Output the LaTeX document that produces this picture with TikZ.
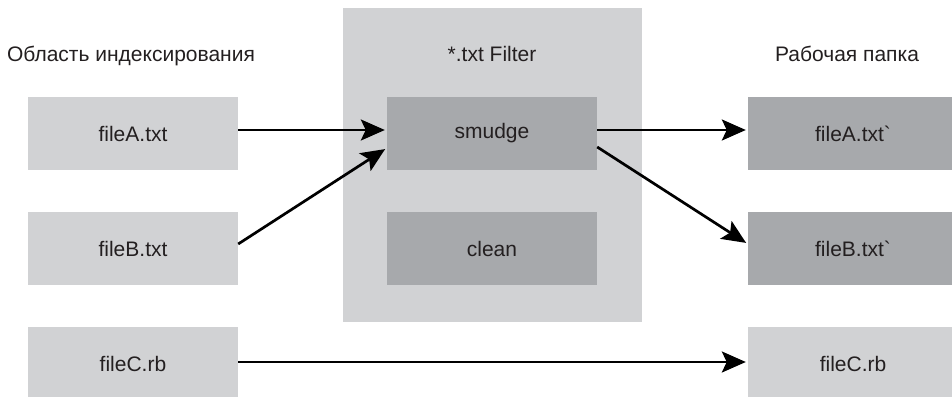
\documentclass[tikz,border=0pt]{standalone}
\usepackage{fontspec}
\setmainfont{Liberation Sans}
\newfontfamily\gravefont{Liberation Sans}[Ligatures=TeXOff]
\usetikzlibrary{arrows.meta}
\definecolor{lightbox}{HTML}{D1D2D4}
\definecolor{darkbox}{HTML}{A7A9AC}
\definecolor{txt}{HTML}{231F20}
\newcommand{\bq}{{\gravefont\symbol{96}}}
\begin{document}
\begin{tikzpicture}[x=1pt,y=-1pt,
  every node/.style={font=\fontsize{21}{25}\selectfont, text=txt},
  filebox/.style={fill=lightbox, minimum width=210pt, minimum height=73pt, inner sep=0pt},
  procbox/.style={fill=darkbox, minimum width=210pt, minimum height=73pt, inner sep=0pt},
  heading/.style={anchor=base, inner sep=0pt},
  flow/.style={draw=black, line width=2.7pt, -{Stealth[length=24pt,width=21pt,inset=5pt]}, shorten >=2pt}
]
\useasboundingbox (0,0) rectangle (952,396);
% filter background
\node[fill=lightbox, minimum width=299pt, minimum height=314pt, inner sep=0pt] (filter) at (492.5,165) {};
% headings
\node[heading] (hidx) at (131,62) {Область индексирования};
\node[heading] (hflt) at (492,62) {*.txt Filter};
\node[heading] (hwd) at (847,62) {Рабочая папка};
% left column
\node[filebox] (fa) at (133,133.5) {fileA.txt};
\node[filebox] (fb) at (133,248.5) {fileB.txt};
\node[filebox] (fc) at (133,363.5) {fileC.rb};
% filter
\node[procbox] (smudge) at (492,133.5) {smudge};
\node[procbox] (clean) at (492,248.5) {clean};
% right column
\node[procbox] (ra) at (853,133.5) {fileA.txt\bq};
\node[procbox] (rb) at (853,248.5) {fileB.txt\bq};
\node[filebox] (rc) at (853,363.5) {fileC.rb};
% arrows
\draw[flow] ([yshift=3.5pt]fa.east) -- ([yshift=3.5pt]smudge.west);
\draw[flow] ([yshift=4.5pt]fb.east) -- ([yshift=-14.5pt]smudge.west);
\draw[flow] ([yshift=3.5pt]smudge.east) -- ([yshift=3.5pt]ra.west);
\draw[flow] ([yshift=-13.5pt]smudge.east) -- ([yshift=4.5pt]rb.west);
\draw[flow] ([yshift=1.5pt]fc.east) -- ([yshift=1.5pt]rc.west);
\end{tikzpicture}
\end{document}
